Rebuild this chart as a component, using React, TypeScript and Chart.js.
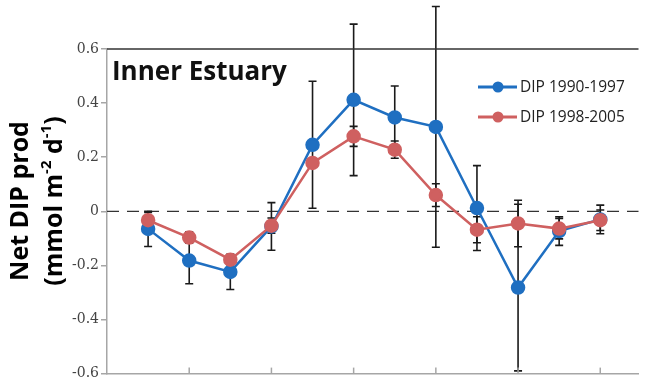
import React, { useEffect, useRef } from "react";
import { Chart, registerables } from "chart.js";

Chart.register(...registerables);

const months = [1, 2, 3, 4, 5, 6, 7, 8, 9, 10, 11, 12];
const blueValues = [-0.065, -0.182, -0.224, -0.056, 0.246, 0.412, 0.347, 0.312, 0.012, -0.282, -0.073, -0.03];
const redValues = [-0.033, -0.097, -0.179, -0.053, 0.179, 0.277, 0.228, 0.06, -0.068, -0.045, -0.064, -0.033];
const blueErr = [0.065, 0.086, 0.065, 0.088, 0.235, 0.28, 0.116, 0.445, 0.157, 0.308, 0.053, 0.053];
const redErr = [0.029, 0.021, 0.019, 0.028, 0.012, 0.037, 0.032, 0.042, 0.048, 0.086, 0.038, 0.038];
const yTicks = [-0.6, -0.4, -0.2, 0, 0.2, 0.4, 0.6];
const xTicks = [2, 4, 6, 8, 10, 12];
const blueLabel = "DIP 1990-1997";
const redLabel = "DIP 1998-2005";
const panelTitle = "Inner Estuary";
const yTitleLine1 = "Net DIP prod";

const BLUE = "#1f6fc1";
const RED = "#cf6060";
const SANS = "'Open Sans', Lato, sans-serif";

const decorPlugin = {
  id: "decor",
  beforeDatasetsDraw(chart: any) {
    const { ctx, chartArea, scales } = chart;
    const xs = scales.x;
    const ys = scales.y;
    ctx.save();
    const y0 = ys.getPixelForValue(0);
    ctx.strokeStyle = "#333";
    ctx.lineWidth = 1.2;
    ctx.setLineDash([12, 8]);
    ctx.beginPath();
    ctx.moveTo(chartArea.left, y0);
    ctx.lineTo(chartArea.right, y0);
    ctx.stroke();
    ctx.setLineDash([]);
    ctx.strokeStyle = "#1a1a1a";
    ctx.lineWidth = 1.6;
    const drawErr = (vals: number[], errs: number[]) => {
      vals.forEach((v, i) => {
        const x = xs.getPixelForValue(months[i]);
        const yt = ys.getPixelForValue(v + errs[i]);
        const yb = ys.getPixelForValue(v - errs[i]);
        ctx.beginPath();
        ctx.moveTo(x, yt);
        ctx.lineTo(x, yb);
        ctx.moveTo(x - 4, yt);
        ctx.lineTo(x + 4, yt);
        ctx.moveTo(x - 4, yb);
        ctx.lineTo(x + 4, yb);
        ctx.stroke();
      });
    };
    drawErr(blueValues, blueErr);
    drawErr(redValues, redErr);
    ctx.restore();
  },
  afterDraw(chart: any) {
    const { ctx, chartArea, scales } = chart;
    const xs = scales.x;
    ctx.save();
    ctx.strokeStyle = "#333";
    ctx.lineWidth = 1.5;
    ctx.beginPath();
    ctx.moveTo(chartArea.left, chartArea.top);
    ctx.lineTo(chartArea.right, chartArea.top);
    ctx.stroke();
    ctx.strokeStyle = "#a6a6a6";
    ctx.lineWidth = 1.5;
    xTicks.forEach((t) => {
      const x = xs.getPixelForValue(t);
      ctx.beginPath();
      ctx.moveTo(x, chartArea.bottom);
      ctx.lineTo(x, chartArea.bottom - 6);
      ctx.stroke();
    });
    ctx.fillStyle = "#111";
    ctx.font = `bold 26px ${SANS}`;
    ctx.textAlign = "left";
    ctx.textBaseline = "alphabetic";
    ctx.fillText(panelTitle, 112, 80);
    const legendItems = [
      { label: blueLabel, color: BLUE, y: 87 },
      { label: redLabel, color: RED, y: 117 },
    ];
    legendItems.forEach((it) => {
      ctx.strokeStyle = it.color;
      ctx.lineWidth = 3;
      ctx.beginPath();
      ctx.moveTo(478, it.y);
      ctx.lineTo(517, it.y);
      ctx.stroke();
      ctx.fillStyle = it.color;
      ctx.beginPath();
      ctx.arc(498, it.y, 5.5, 0, Math.PI * 2);
      ctx.fill();
      ctx.fillStyle = "#222";
      ctx.font = `15.5px ${SANS}`;
      ctx.textBaseline = "middle";
      ctx.fillText(it.label, 520, it.y + 1);
    });
    ctx.fillStyle = "#000";
    ctx.textBaseline = "middle";
    const mainFont = `bold 25px ${SANS}`;
    const supFont = `bold 15px ${SANS}`;
    ctx.font = mainFont;
    ctx.save();
    ctx.translate(21, 201);
    ctx.rotate(-Math.PI / 2);
    ctx.textAlign = "center";
    ctx.fillText(yTitleLine1, 0, 0);
    ctx.restore();
    const parts: { t: string; sup: boolean }[] = [
      { t: "(mmol m", sup: false },
      { t: "-2", sup: true },
      { t: " d", sup: false },
      { t: "-1", sup: true },
      { t: ")", sup: false },
    ];
    let total = 0;
    parts.forEach((p) => {
      ctx.font = p.sup ? supFont : mainFont;
      total += ctx.measureText(p.t).width;
    });
    ctx.save();
    ctx.translate(55, 201);
    ctx.rotate(-Math.PI / 2);
    ctx.textAlign = "left";
    let cx = -total / 2;
    parts.forEach((p) => {
      ctx.font = p.sup ? supFont : mainFont;
      ctx.fillText(p.t, cx, p.sup ? -8 : 0);
      cx += ctx.measureText(p.t).width;
    });
    ctx.restore();
    ctx.restore();
  },
};

export default function App() {
  const ref = useRef<HTMLCanvasElement | null>(null);
  useEffect(() => {
    if (!ref.current) return;
    const chart = new Chart(ref.current, {
      type: "line",
      data: {
        datasets: [
          {
            label: blueLabel,
            data: months.map((m, i) => ({ x: m, y: blueValues[i] })),
            borderColor: BLUE,
            backgroundColor: BLUE,
            pointBackgroundColor: BLUE,
            pointBorderColor: BLUE,
            pointRadius: 6,
            borderWidth: 2.5,
            clip: false,
            order: 2,
          } as any,
          {
            label: redLabel,
            data: months.map((m, i) => ({ x: m, y: redValues[i] })),
            borderColor: RED,
            backgroundColor: RED,
            pointBackgroundColor: RED,
            pointBorderColor: RED,
            pointRadius: 6,
            borderWidth: 2.5,
            clip: false,
            order: 1,
          } as any,
        ],
      },
      options: {
        animation: false,
        responsive: false,
        maintainAspectRatio: false,
        layout: { padding: { left: 0, right: 0, top: 49, bottom: 8 } },
        plugins: {
          legend: { display: false },
          tooltip: { enabled: false },
          title: { display: false },
        },
        scales: {
          x: {
            type: "linear",
            min: 0,
            max: 12.93,
            grid: { display: false, drawTicks: false },
            border: { display: true, color: "#a6a6a6", width: 1.5 },
            ticks: { display: false },
            afterFit: (s: any) => {
              s.height = 0;
            },
          },
          y: {
            type: "linear",
            min: -0.6,
            max: 0.6,
            afterBuildTicks: (s: any) => {
              s.ticks = yTicks.map((v) => ({ value: v }));
            },
            grid: { drawOnChartArea: false, drawTicks: true, tickLength: 6, color: "#a6a6a6", lineWidth: 1.5 },
            border: { display: true, color: "#a6a6a6", width: 1.5 },
            ticks: {
              font: { family: "DejaVu Serif", size: 14 },
              color: "#444",
              padding: 2,
              callback: (v: any) => (Number(v) === 0 ? "0" : Number(v).toFixed(1)),
            },
            afterFit: (s: any) => {
              s.width = 107;
            },
          },
        },
      } as any,
      plugins: [decorPlugin],
    });
    return () => chart.destroy();
  }, []);
  return (
    <div style={{ position: "absolute", left: 0, top: 0, width: 647, height: 384 }}>
      <canvas ref={ref} width={647} height={384} style={{ display: "block", width: 647, height: 384 }} />
    </div>
  );
}
